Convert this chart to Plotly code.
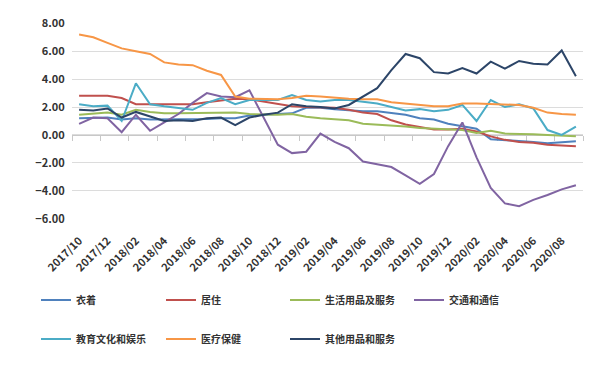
import plotly.graph_objects as go

months = [
    "2017/10", "2017/11", "2017/12", "2018/01", "2018/02", "2018/03", "2018/04", "2018/05",
    "2018/06", "2018/07", "2018/08", "2018/09", "2018/10", "2018/11", "2018/12", "2019/01",
    "2019/02", "2019/03", "2019/04", "2019/05", "2019/06", "2019/07", "2019/08", "2019/09",
    "2019/10", "2019/11", "2019/12", "2020/01", "2020/02", "2020/03", "2020/04", "2020/05",
    "2020/06", "2020/07", "2020/08", "2020/09",
]

clothing = [1.2, 1.25, 1.25, 1.1, 1.2, 1.1, 1.1, 1.1, 1.1, 1.15, 1.2, 1.2,
            1.4, 1.45, 1.5, 1.55, 1.95, 1.95, 1.85, 1.75, 1.7, 1.7, 1.6, 1.45,
            1.2, 1.1, 0.8, 0.6, 0.45, -0.3, -0.35, -0.45, -0.5, -0.6, -0.5, -0.45]
housing = [2.8, 2.8, 2.8, 2.65, 2.2, 2.2, 2.2, 2.2, 2.2, 2.35, 2.5, 2.6,
           2.55, 2.4, 2.2, 2.05, 2.0, 2.0, 1.95, 1.8, 1.6, 1.5, 1.05, 0.75,
           0.55, 0.4, 0.4, 0.45, 0.25, -0.1, -0.35, -0.5, -0.55, -0.7, -0.75, -0.8]
household = [1.45, 1.55, 1.6, 1.45, 1.8, 1.65, 1.55, 1.55, 1.55, 1.6, 1.6, 1.6,
             1.5, 1.45, 1.45, 1.5, 1.3, 1.2, 1.1, 1.05, 0.8, 0.75, 0.7, 0.6,
             0.5, 0.45, 0.4, 0.35, 0.15, 0.3, 0.1, 0.1, 0.05, 0.0, -0.05, -0.1]
transport = [0.8, 1.25, 1.2, 0.2, 1.45, 0.3, 0.9, 1.5, 2.3, 3.0, 2.75, 2.7,
             3.2, 1.3, -0.7, -1.3, -1.2, 0.1, -0.5, -0.95, -1.9, -2.1, -2.3, -2.9,
             -3.5, -2.8, -0.8, 0.9, -1.6, -3.8, -4.9, -5.1, -4.65, -4.3, -3.9, -3.6]
education = [2.2, 2.05, 2.1, 1.0, 3.7, 2.2, 2.05, 1.9, 1.8, 2.3, 2.65, 2.2,
             2.5, 2.5, 2.5, 2.85, 2.5, 2.4, 2.5, 2.5, 2.4, 2.25, 2.0, 1.75,
             1.85, 1.7, 1.8, 2.15, 1.0, 2.5, 2.0, 2.2, 1.9, 0.35, 0.0, 0.6]
medical = [7.2, 7.0, 6.6, 6.2, 6.0, 5.8, 5.2, 5.05, 5.0, 4.6, 4.3, 2.75,
           2.6, 2.6, 2.55, 2.65, 2.8, 2.75, 2.65, 2.6, 2.55, 2.55, 2.35, 2.25,
           2.15, 2.05, 2.05, 2.25, 2.25, 2.2, 2.15, 2.15, 1.95, 1.6, 1.5, 1.45]
other = [1.8, 1.75, 1.9, 1.25, 1.65, 1.3, 1.0, 1.05, 1.0, 1.2, 1.25, 0.7,
         1.25, 1.45, 1.6, 2.2, 2.05, 2.0, 1.9, 2.15, 2.75, 3.35, 4.65, 5.8,
         5.5, 4.5, 4.4, 4.8, 4.4, 5.25, 4.75, 5.3, 5.1, 5.05, 6.05, 4.2]

names = ["衣着", "居住", "生活用品及服务", "交通和通信", "教育文化和娱乐", "医疗保健", "其他用品和服务"]
series = [clothing, housing, household, transport, education, medical, other]
colors = ["#4F81BD", "#C0504D", "#9BBB59", "#8064A2", "#4BACC6", "#F79646", "#2C4568"]

FONT = "Noto Sans CJK SC, Noto Sans, sans-serif"
W, H = 596, 356  # page body has an 8px margin

# legend grid: 4 columns x 2 rows
col_x = [28, 153, 277, 401]
row_y = [292, 331]

fig = go.Figure()
legend_layout = {}
for k, (name, vals, col) in enumerate(zip(names, series, colors)):
    lid = "legend" if k == 0 else f"legend{k + 1}"
    fig.add_trace(go.Scatter(x=months, y=vals, name=name, mode="lines",
                             line=dict(color=col, width=2), legend=lid))
    legend_layout[lid] = dict(
        orientation="h", xref="container", yref="container",
        x=col_x[k % 4] / W, y=(H - row_y[k // 4]) / H,
        xanchor="left", yanchor="middle", bgcolor="rgba(0,0,0,0)",
        font=dict(family=FONT, size=10, color="#333333", weight="bold"),
        itemclick=False, itemdoubleclick=False)

# helper trace so the zero-line axis (x2) is rendered
fig.add_trace(go.Scatter(x=list(range(len(months))), y=[None] * len(months),
                         xaxis="x2", showlegend=False, hoverinfo="skip"))

boundaries = [i - 0.5 for i in range(0, len(months) + 1, 2)]

fig.update_layout(
    width=W, height=H,
    margin=dict(l=64, r=W - 575, t=15, b=H - 211, autoexpand=False),
    paper_bgcolor="white", plot_bgcolor="white",
    font=dict(family=FONT, color="#333333"),
    showlegend=True,
    xaxis=dict(type="category", range=[-0.5, len(months) - 0.5],
               tickmode="array", tickvals=months[::2], ticktext=months[::2],
               tickangle=-45, showgrid=False, showline=False, zeroline=False,
               ticks="outside", ticklen=10, tickcolor="rgba(0,0,0,0)",
               tickfont=dict(family=FONT, size=11, color="#333333", weight="bold"),
               automargin=False),
    xaxis2=dict(overlaying="x", anchor="free", position=6 / 14,
                range=[-0.5, len(months) - 0.5], tickmode="array", tickvals=boundaries,
                showticklabels=False, ticks="outside", ticklen=5, tickcolor="#c8c8c8",
                showline=True, linecolor="#c8c8c8", linewidth=1,
                showgrid=False, zeroline=False, layer="below traces"),
    yaxis=dict(range=[-6.02, 8.02], tickmode="array", tickvals=[-6, -4, -2, 0, 2, 4, 6, 8],
               tickformat=".2f", showgrid=True, gridcolor="#dcdcdc", gridwidth=1,
               zeroline=False, showline=False,
               ticks="outside", ticklen=4, tickcolor="rgba(0,0,0,0)",
               tickfont=dict(family=FONT, size=11, color="#333333", weight="bold"),
               automargin=False),
    **legend_layout,
)

fig.write_html("out.html")
